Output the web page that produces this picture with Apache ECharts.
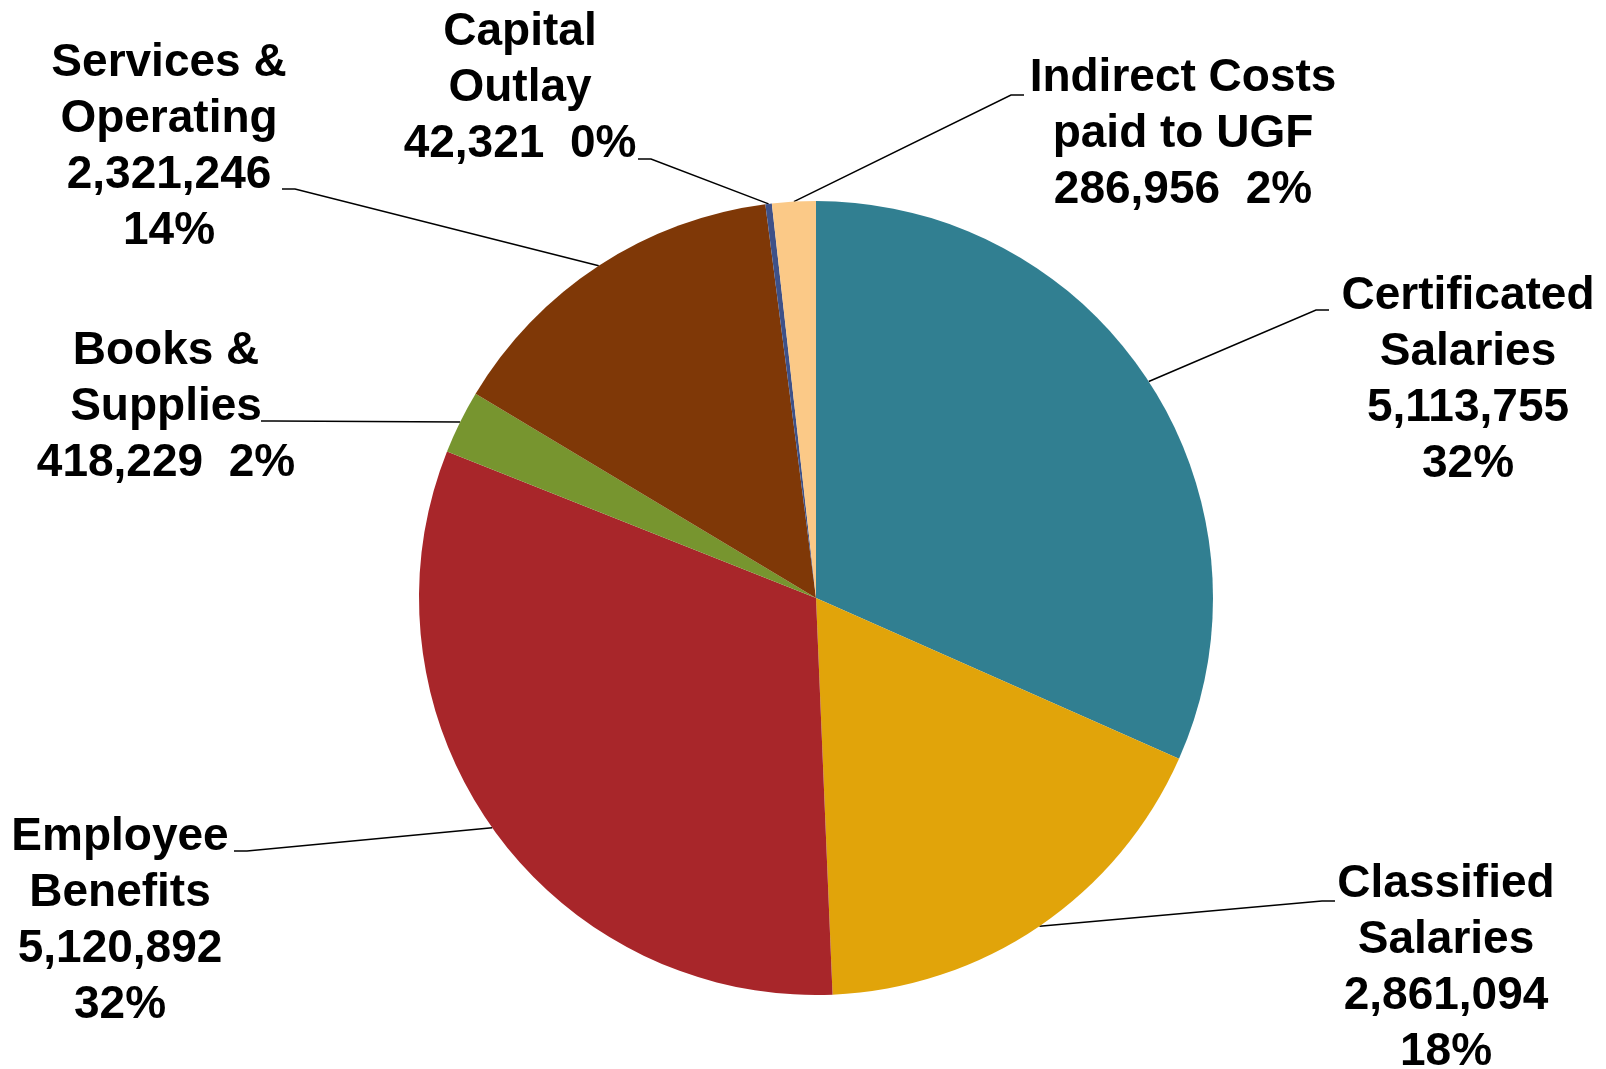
<!DOCTYPE html>
<html>
<head>
<meta charset="utf-8">
<script src="https://cdn.jsdelivr.net/npm/echarts@6/dist/echarts.min.js"></script>
<style>
html,body{margin:0;padding:0;background:#fff;}
#chart{width:1606px;height:1069px;}
</style>
</head>
<body>
<div id="chart"></div>
<script>
// ---- data ----
const categories = [
  'Certificated\nSalaries',
  'Classified\nSalaries',
  'Employee\nBenefits',
  'Books &\nSupplies',
  'Services &\nOperating',
  'Capital\nOutlay',
  'Indirect Costs\npaid to UGF'
];
const values = [5113755, 2861094, 5120892, 418229, 2321246, 42321, 286956];
const percentLabels = ['32%', '18%', '32%', '2%', '14%', '0%', '2%'];

// ---- styling / layout (not data) ----
const colors = ['#317F91', '#E1A40A', '#A8262A', '#77952F', '#7F3807', '#3E5188', '#FBC987'];
const valuePctSeparators = ['\n', '\n', '\n', '  ', '\n', '  ', '  '];
// label centre positions [x, y]
const labelPos = [[1468, 380], [1446, 968], [120, 921], [166, 407], [169, 147], [520, 88], [1183, 134]];
// leader-line end relative to label centre [dx, dy]
const lineEnd = [[-139, -70], [-111, -67], [114, -70], [95, 14], [113, 42], [118, 71], [-159, -39]];

const fmt = v => v.toLocaleString('en-US');

const data = categories.map((c, i) => ({
  name: c,
  value: values[i],
  itemStyle: { color: colors[i] }
}));

const chart = echarts.init(document.getElementById('chart'), null, { renderer: 'canvas' });
chart.setOption({
  animation: false,
  backgroundColor: '#ffffff',
  series: [{
    type: 'pie',
    center: [816, 598],
    radius: 397,
    startAngle: 90,
    clockwise: true,
    avoidLabelOverlap: false,
    data: data,
    itemStyle: { borderWidth: 0 },
    label: {
      show: true,
      position: 'outside',
      alignTo: 'none',
      fontFamily: 'Liberation Sans',
      fontWeight: 'bold',
      fontSize: 46,
      lineHeight: 56,
      color: '#000',
      formatter: p => p.name + '\n' + fmt(p.value) +
        valuePctSeparators[p.dataIndex] + percentLabels[p.dataIndex]
    },
    labelLine: {
      show: true,
      length: 10,
      length2: 10,
      smooth: false,
      lineStyle: { color: '#000', width: 1.5 }
    },
    labelLayout: function (params) {
      const i = params.dataIndex;
      const [x, y] = labelPos[i];
      const ax = x + lineEnd[i][0];
      const ay = y + lineEnd[i][1];
      const knee = [ax + (lineEnd[i][0] < 0 ? -13 : 13), ay];
      const start = params.labelLinePoints ? params.labelLinePoints[0] : knee;
      return {
        x: x,
        y: y,
        align: 'center',
        verticalAlign: 'middle',
        labelLinePoints: [start, knee, [ax, ay]]
      };
    }
  }]
});
</script>
</body>
</html>
